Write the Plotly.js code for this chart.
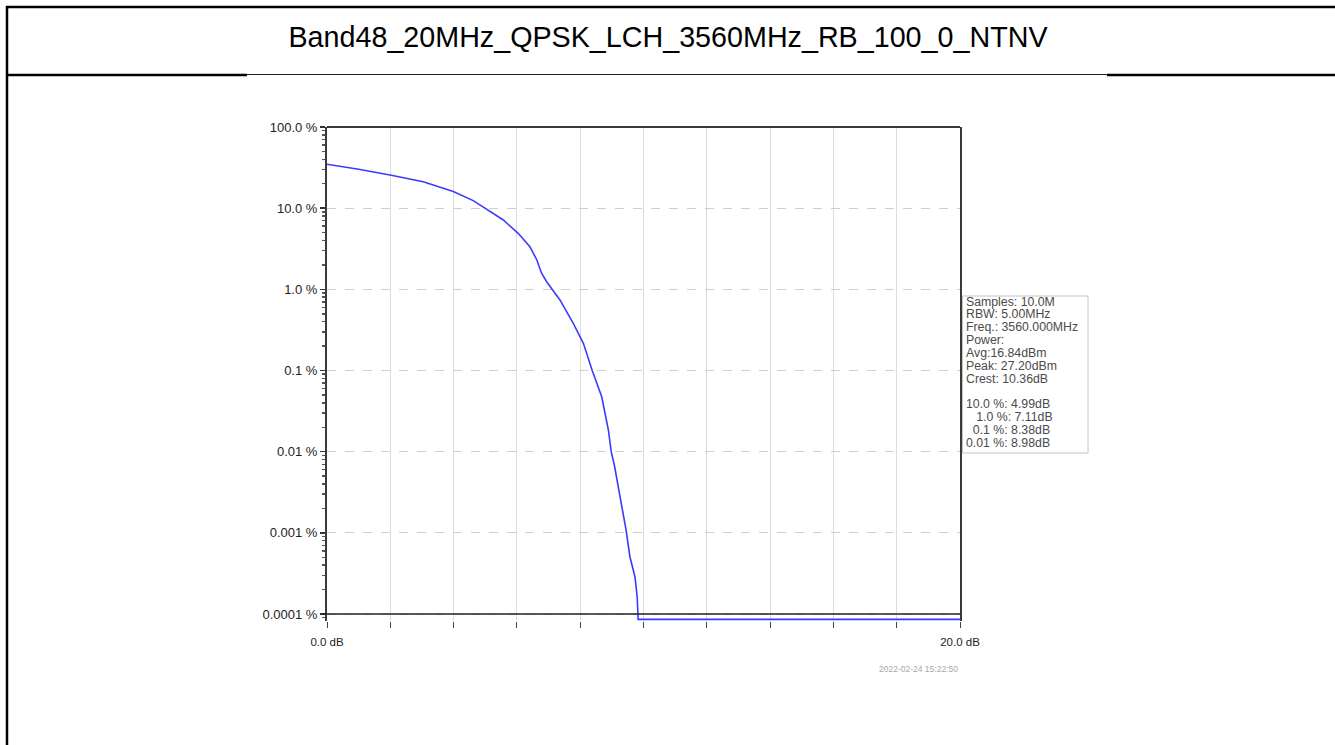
<!DOCTYPE html>
<html>
<head>
<meta charset="utf-8">
<script src="https://cdn.plot.ly/plotly-3.0.1.min.js"></script>
<style>
html,body{margin:0;padding:0;background:#fff;}
#chart{width:1335px;height:745px;}
</style>
</head>
<body>
<div id="chart"></div>
<script>
// ---- data ----
const titleText = "Band48_20MHz_QPSK_LCH_3560MHz_RB_100_0_NTNV";
const levelDb = [0, 1.0, 1.99, 3.04, 3.99, 4.62, 4.99, 5.57, 6.04, 6.41, 6.63, 6.78, 6.94, 7.11, 7.36, 7.78, 8.10, 8.38, 8.68, 8.89, 8.98, 9.08, 9.26, 9.45, 9.57, 9.73, 9.80, 9.82, 9.83, 20];
const ccdfPct = [34.8, 30.2, 25.6, 21.2, 16.0, 12.4, 10.0, 7.15, 4.90, 3.35, 2.30, 1.58, 1.24, 1.0, 0.74, 0.382, 0.216, 0.1, 0.0475, 0.0185, 0.01, 0.0068, 0.00279, 0.00108, 0.000508, 0.000288, 0.000163, 0.0001, 0.000086, 0.000086];
const yTickVals = [100, 10, 1, 0.1, 0.01, 0.001, 0.0001];
const yTickText = ["100.0 %", "10.0 %", "1.0 %", "0.1 %", "0.01 %", "0.001 %", "0.0001 %"];
const xTickVals = [0, 2, 4, 6, 8, 10, 12, 14, 16, 18, 20];
const xTickText = ["0.0 dB", "", "", "", "", "", "", "", "", "", "20.0 dB"];
const statsLines = [
  "Samples: 10.0M",
  "RBW: 5.00MHz",
  "Freq.: 3560.000MHz",
  "Power:",
  "Avg:16.84dBm",
  "Peak: 27.20dBm",
  "Crest: 10.36dB",
  "",
  "10.0 %: 4.99dB",
  "\u00a0\u00a0\u00a01.0 %: 7.11dB",
  "\u00a0\u00a00.1 %: 8.38dB",
  "0.01 %: 8.98dB"
];
const timestamp = "2022-02-24 15:22:50";

// ---- layout geometry (pixels) ----
const W = 1335, H = 745;
const L = 327, R = 960, T = 127, B = 621;
const yLogTop = 2, yLogBottom = -4.086;
const pw = R - L, ph = B - T;
const px = v => (v - L) / pw;           // pixel x -> paper x
const py = v => (B - v) / ph;           // pixel y -> paper y
const logPaper = val => (Math.log10(val) - yLogBottom) / (yLogTop - yLogBottom);

const trace = {
  x: levelDb, y: ccdfPct, type: 'scatter', mode: 'lines',
  line: {color: '#3b3bff', width: 1.6},
  cliponaxis: false, hoverinfo: 'skip'
};

const fontFam = 'Liberation Sans, Arial, sans-serif';

const statsAnnotations = statsLines.map((t, i) => ({
  text: t === "" ? " " : t, showarrow: false, align: 'left',
  xref: 'paper', yref: 'paper', x: px(964), y: py(301.5 + i * 12.85),
  xanchor: 'left', yanchor: 'middle',
  font: {family: fontFam, size: 12.3, color: '#4a4a4a'}
}));

const layout = {
  width: W, height: H,
  margin: {l: L, r: W - R, t: T, b: H - B, pad: 0},
  paper_bgcolor: '#ffffff', plot_bgcolor: '#ffffff',
  showlegend: false,
  font: {family: fontFam, color: '#222'},
  title: {
    text: titleText, x: 668 / W, xanchor: 'center', xref: 'container',
    y: 1 - 37 / H, yanchor: 'middle', yref: 'container',
    font: {family: fontFam, size: 28.7, color: '#000'}
  },
  xaxis: {
    range: [0, 20], type: 'linear',
    tickmode: 'array', tickvals: xTickVals, ticktext: xTickText,
    ticks: 'outside', ticklen: 6, tickwidth: 1, tickcolor: '#444',
    ticklabelstandoff: 4,
    showgrid: true, gridcolor: '#dcdcdc', gridwidth: 1,
    showline: false, zeroline: false,
    tickfont: {size: 11.5, color: '#222'},
    fixedrange: true
  },
  yaxis: {
    type: 'log', range: [yLogBottom, yLogTop],
    tickmode: 'array', tickvals: yTickVals, ticktext: yTickText,
    ticks: 'outside', ticklen: 5, tickwidth: 1.5, tickcolor: '#333',
    ticklabelstandoff: 0,
    minor: {ticks: 'outside', ticklen: 3, tickcolor: '#555', dtick: 'D1', showgrid: false},
    showgrid: true, gridcolor: '#cfcfcf', gridwidth: 1, griddash: 'dash',
    showline: true, mirror: true, linecolor: '#3a3a3a', linewidth: 2,
    zeroline: false,
    tickfont: {size: 13, color: '#222'},
    fixedrange: true
  },
  shapes: [
    // top border of plot box (100 %)
    {type: 'line', xref: 'paper', yref: 'paper', x0: 0, x1: 1, y0: 1, y1: 1, line: {color: '#3a3a3a', width: 2}},
    // reference line at 0.0001 %
    {type: 'line', xref: 'paper', yref: 'paper', x0: px(322), x1: 1, y0: logPaper(0.0001), y1: logPaper(0.0001), line: {color: '#222', width: 1.5}},
    // stats box
    {type: 'rect', xref: 'paper', yref: 'paper', x0: px(962.5), x1: px(1088), y0: py(296), y1: py(453), line: {color: '#c4c4c4', width: 1}, fillcolor: '#ffffff', layer: 'above'},
    // outer frame: top line
    {type: 'line', xref: 'paper', yref: 'paper', x0: px(6), x1: px(1335), y0: py(7), y1: py(7), line: {color: '#000', width: 2.5}},
    // outer frame: left line
    {type: 'line', xref: 'paper', yref: 'paper', x0: px(7), x1: px(7), y0: py(6), y1: py(745), line: {color: '#000', width: 2.5}},
    // header separator (left thick, middle thin, right thick)
    {type: 'line', xref: 'paper', yref: 'paper', x0: px(6), x1: px(247), y0: py(75), y1: py(75), line: {color: '#000', width: 2.5}},
    {type: 'line', xref: 'paper', yref: 'paper', x0: px(247), x1: px(1107), y0: py(74.5), y1: py(74.5), line: {color: '#222', width: 1}},
    {type: 'line', xref: 'paper', yref: 'paper', x0: px(1107), x1: px(1335), y0: py(75), y1: py(75), line: {color: '#000', width: 2.5}}
  ],
  annotations: statsAnnotations.concat([
    {
      text: timestamp, showarrow: false,
      xref: 'paper', yref: 'paper', x: px(960), y: py(669), xanchor: 'right', yanchor: 'middle',
      font: {family: fontFam, size: 8.5, color: '#a8a8a8'}
    }
  ])
};

Plotly.newPlot('chart', [trace], layout, {staticPlot: true, displayModeBar: false});
</script>
</body>
</html>
